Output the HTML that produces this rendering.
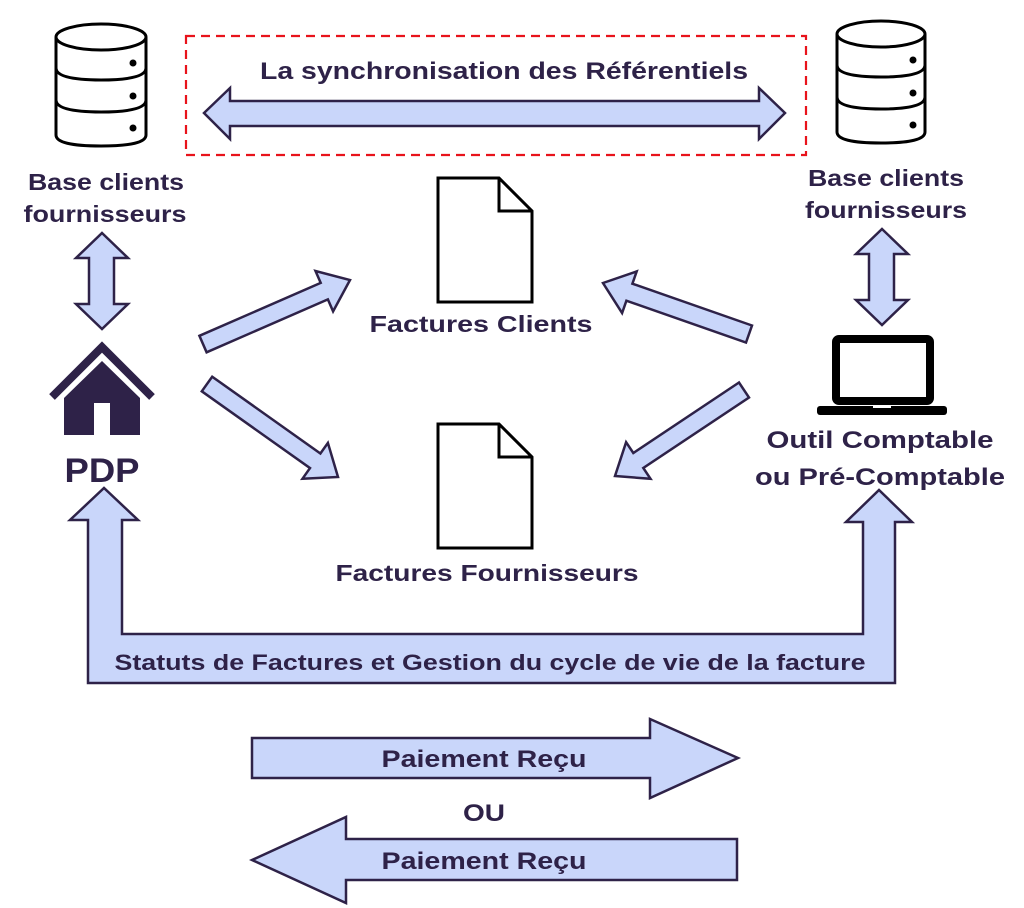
<!DOCTYPE html>
<html><head><meta charset="utf-8"><style>
html,body{margin:0;padding:0;background:#fff;}
svg{display:block;}
text{font-family:"Liberation Sans",sans-serif;font-weight:bold;fill:#2e2248;text-anchor:middle;}
.a{fill:#c9d6fa;stroke:#2e2248;stroke-width:2.5;stroke-linejoin:miter;}
.k{fill:#fff;stroke:#000;stroke-width:3;}
</style></head><body>
<svg width="1024" height="908" viewBox="0 0 1024 908" xmlns="http://www.w3.org/2000/svg">
<rect x="186" y="36" width="620" height="119" fill="none" stroke="#e8131b" stroke-width="2.2" stroke-dasharray="9,6"/>
<text x="504" y="79" font-size="24" textLength="488" lengthAdjust="spacingAndGlyphs">La synchronisation des Référentiels</text>
<polygon class="a" points="204,113 230,88 230,101 759,101 759,88 785,113 759,139 759,126 230,126 230,139"/>

<g class="k">
<path d="M56,37 L56,135 Q56,146 101,146 Q146,146 146,135 L146,37"/>
<ellipse cx="101" cy="37" rx="45" ry="13"/>
<path d="M56,68 Q56,80 101,80 Q146,80 146,68" fill="none"/>
<path d="M56,100 Q56,112 101,112 Q146,112 146,100" fill="none"/>
</g>
<circle cx="133" cy="63" r="3.5"/><circle cx="133" cy="96" r="3.5"/><circle cx="133" cy="128" r="3.5"/>
<g class="k">
<path d="M837,34 L837,132 Q837,143 881,143 Q925,143 925,132 L925,34"/>
<ellipse cx="881" cy="34" rx="44" ry="13"/>
<path d="M837,65 Q837,77 881,77 Q925,77 925,65" fill="none"/>
<path d="M837,97 Q837,109 881,109 Q925,109 925,97" fill="none"/>
</g>
<circle cx="913" cy="60" r="3.5"/><circle cx="913" cy="93" r="3.5"/><circle cx="913" cy="125" r="3.5"/>

<text x="106" y="190" font-size="23" textLength="156" lengthAdjust="spacingAndGlyphs">Base clients</text>
<text x="105" y="222" font-size="23" textLength="163" lengthAdjust="spacingAndGlyphs">fournisseurs</text>
<text x="886" y="186" font-size="23" textLength="156" lengthAdjust="spacingAndGlyphs">Base clients</text>
<text x="886" y="218" font-size="23" textLength="162" lengthAdjust="spacingAndGlyphs">fournisseurs</text>

<polygon class="a" points="102,233 128,258 114,258 114,304 128,304 102,329 76,304 89,304 89,258 76,258"/>
<polygon class="a" points="882,229 908,254 894,254 894,300 908,300 882,325 856,300 869,300 869,254 856,254"/>

<polyline points="52,397 102,347 152,397" fill="none" stroke="#2e2248" stroke-width="8"/>
<polygon fill="#2e2248" points="64,398 102,361 140,398 140,435 110,435 110,403 94,403 94,435 64,435"/>
<text x="102" y="482" font-size="34" textLength="75" lengthAdjust="spacingAndGlyphs">PDP</text>

<rect x="836" y="339" width="94" height="62" rx="3" fill="#fff" stroke="#000" stroke-width="8"/>
<rect x="817" y="406" width="130" height="9" rx="3" fill="#000"/>
<rect x="873" y="405" width="18" height="3" fill="#fff"/>
<text x="880" y="448" font-size="24" textLength="227" lengthAdjust="spacingAndGlyphs">Outil Comptable</text>
<text x="880" y="485" font-size="24" textLength="250" lengthAdjust="spacingAndGlyphs">ou Pré-Comptable</text>

<path class="k" d="M438,178 L499,178 L532,211 L532,302 L438,302 Z"/>
<path d="M499,178 L499,211 L532,211" fill="none" stroke="#000" stroke-width="3"/>
<path class="k" d="M438,424 L499,424 L532,457 L532,548 L438,548 Z"/>
<path d="M499,424 L499,457 L532,457" fill="none" stroke="#000" stroke-width="3"/>
<text x="481" y="332" font-size="23" textLength="223" lengthAdjust="spacingAndGlyphs">Factures Clients</text>
<text x="487" y="581" font-size="23" textLength="303" lengthAdjust="spacingAndGlyphs">Factures Fournisseurs</text>

<polygon class="a" points="206.6,352.3 327.9,299.4 333.1,311.4 350,280 315.5,271 320.7,282.9 199.4,335.8"/>
<polygon class="a" points="201.8,391.3 310,468.1 302.5,478.7 338,477 327.9,442.9 320.4,453.5 212.2,376.7"/>
<polygon class="a" points="752,325.5 632.4,283.7 636.7,271.4 603,283 622.1,313 626.4,300.7 746,342.5"/>
<polygon class="a" points="739,382.5 633.3,453 626.1,442.2 615,476 650.5,478.8 643.3,468 749,397.5"/>

<polygon class="a" points="88,683 895,683 895,522 912,522 879,490 846,522 863,522 863,634 122,634 122,520 138,520 104,488 70,520 88,520"/>
<text x="490" y="670" font-size="22" textLength="751" lengthAdjust="spacingAndGlyphs">Statuts de Factures et Gestion du cycle de vie de la facture</text>

<polygon class="a" points="252,738 650,738 650,719 738,758 650,798 650,778 252,778"/>
<text x="484" y="767" font-size="24" textLength="205" lengthAdjust="spacingAndGlyphs">Paiement Reçu</text>
<text x="484" y="821" font-size="24" textLength="42" lengthAdjust="spacingAndGlyphs">OU</text>
<polygon class="a" points="737,839 346,839 346,817 252,860 346,903 346,880 737,880"/>
<text x="484" y="869" font-size="24" textLength="205" lengthAdjust="spacingAndGlyphs">Paiement Reçu</text>
</svg>
</body></html>
